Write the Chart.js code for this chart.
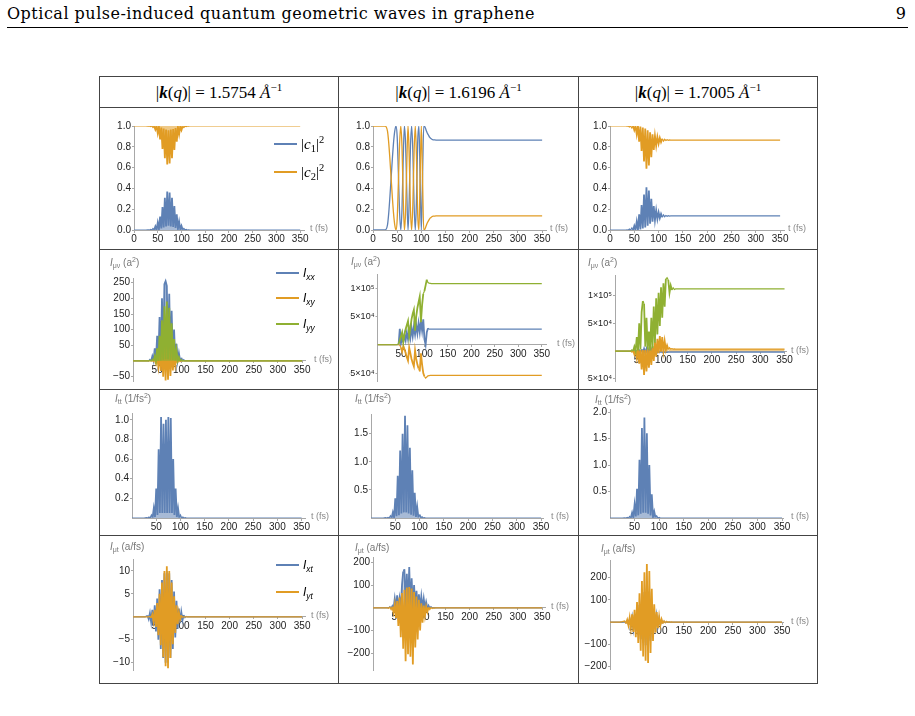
<!DOCTYPE html>
<html>
<head>
<meta charset="utf-8">
<title>Optical pulse-induced quantum geometric waves in graphene</title>
<script src="https://cdn.jsdelivr.net/npm/chart.js@4.4.1/dist/chart.umd.min.js"></script>
<style>
  html, body { margin: 0; padding: 0; background: #fff; }
  body { position: relative; width: 915px; height: 716px; overflow: hidden; }
  .abs { position: absolute; white-space: nowrap; }
  .runhead { font-family: "DejaVu Serif", serif; font-size: 16px; line-height: 16px; color: #000; }
  .hl { position: absolute; height: 1px; background: #444; }
  .vl { position: absolute; width: 1px; background: #444; }
  .colhead { position: absolute; top: 78px; height: 30px; display: flex; align-items: center; justify-content: center;
             font-family: "Liberation Serif", serif; font-size: 17px; white-space: nowrap; }
  .colhead sup { font-size: 11px; vertical-align: 7px; line-height: 0; }
  .ylab { position: absolute; font-family: "Liberation Sans", sans-serif; font-size: 10px; line-height: 10px; color: #777; white-space: nowrap; }
  .ylab sub { font-size: 7px; vertical-align: -2px; line-height: 0; }
  .ylab sup { font-size: 7px; vertical-align: 4px; line-height: 0; }
  .key { position: absolute; height: 2px; width: 23px; }
  .ktxt { position: absolute; white-space: nowrap; line-height: 16px; }
  .ktxt.serif { font-family: "Liberation Serif", serif; font-size: 15px; }
  .ktxt.sans { font-family: "Liberation Sans", sans-serif; font-size: 12px; font-style: italic; }
  .ktxt sub { font-size: 70%; vertical-align: -3px; line-height: 0; }
  .ktxt sup { font-size: 70%; vertical-align: 6px; line-height: 0; }
  canvas { position: absolute; }
</style>
</head>
<body>

<div id="title" class="abs runhead" style="left:7px; top:6px;">Optical pulse-induced quantum geometric waves in graphene</div>
<div class="abs runhead" style="right:9px; top:6px;">9</div>
<div class="hl" style="left:7px; top:27px; width:901px; background:#000;"></div>

<!-- table grid -->
<div class="hl" style="left:99px; top:76px; width:718px;"></div>
<div class="hl" style="left:99px; top:107px; width:718px;"></div>
<div class="hl" style="left:99px; top:249px; width:718px;"></div>
<div class="hl" style="left:99px; top:389px; width:718px;"></div>
<div class="hl" style="left:99px; top:535px; width:718px;"></div>
<div class="hl" style="left:99px; top:683px; width:718px;"></div>
<div class="vl" style="left:99px; top:76px; height:608px;"></div>
<div class="vl" style="left:338px; top:76px; height:608px;"></div>
<div class="vl" style="left:578px; top:76px; height:608px;"></div>
<div class="vl" style="left:817px; top:76px; height:608px;"></div>

<div class="colhead" style="left:100px; width:238px;"><span>|<b><i>k</i></b>(<i>q</i>)| = 1.5754 <i>Å</i><sup>−1</sup></span></div>
<div class="colhead" style="left:339px; width:239px;"><span>|<b><i>k</i></b>(<i>q</i>)| = 1.6196 <i>Å</i><sup>−1</sup></span></div>
<div class="colhead" style="left:579px; width:238px;"><span>|<b><i>k</i></b>(<i>q</i>)| = 1.7005 <i>Å</i><sup>−1</sup></span></div>

<script>
// time grid (fs), shared by every panel
const t = [0, 20, 25,
  30, 32.5, 35, 37.5, 40, 42.5, 45, 47.5, 50, 52.5,
  55, 57.5, 60, 62.5, 65, 67.5, 70, 72.5, 75, 77.5,
  80, 82.5, 85, 87.5, 90, 92.5, 95, 97.5, 100, 102.5,
  105, 107.5, 110, 112.5, 115, 117.5, 120, 122.5, 125, 127.5, 130,
  135, 140, 150, 350];

// row 1 : |c1|^2 , |c2|^2
const c1a = [0, 0, 0,
  .002, 0, .005, 0, .015, .002, .035, .004, .07, .008,
  .13, .015, .22, .025, .31, .035, .37, .04, .36, .035,
  .31, .03, .23, .02, .15, .012, .08, .006, .04, .003,
  .015, .001, .005, 0, .002, 0, 0, 0, 0, 0, 0,
  0, 0, 0, 0];
const c2a = [1, 1, 1,
  .998, 1, .995, 1, .985, .998, .965, .996, .93, .992,
  .87, .985, .78, .975, .69, .965, .63, .96, .64, .965,
  .69, .97, .77, .98, .85, .988, .92, .994, .96, .997,
  .985, .999, .995, 1, .998, 1, 1, 1, 1, 1, 1,
  1, 1, 1, 1];
const c1b = [0, 0, 0,
  .05, .16, .32, .5, .68, .84, .95, 1, .9, .55,
  .17, 0, .2, .68, 1, .82, .35, 0, .3, .8,
  1, .75, .25, 0, .3, .85, 1, .5, 0, .5,
  1, .99, .96, .93, .91, .89, .88, .87, .867, .866, .865,
  .865, .865, .865, .865];
const c2b = [1, 1, 1,
  .95, .84, .68, .5, .32, .16, .05, 0, .1, .45,
  .83, 1, .8, .32, 0, .18, .65, 1, .7, .2,
  0, .25, .75, 1, .7, .15, 0, .5, 1, .5,
  0, .01, .04, .07, .09, .11, .12, .13, .133, .134, .135,
  .135, .135, .135, .135];
const c1c = [0, 0, 0,
  0, 0, .002, 0, .01, 0, .02, 0, .04, 0,
  .08, 0, .15, .005, .24, .015, .34, .025, .41, .04,
  .38, .06, .3, .08, .23, .095, .19, .105, .17, .115,
  .155, .122, .145, .128, .14, .132, .138, .134, .136, .135, .135,
  .135, .135, .135, .135];
const c2c = [1, 1, 1,
  1, 1, .998, 1, .99, 1, .98, 1, .96, 1,
  .92, 1, .85, .995, .76, .985, .66, .975, .59, .96,
  .62, .94, .7, .92, .77, .905, .81, .895, .83, .885,
  .845, .878, .855, .872, .86, .868, .862, .866, .864, .865, .865,
  .865, .865, .865, .865];

// row 2 : I_xx , I_xy , I_yy
const ixxA = [0, 0, 0,
  1, 0, 5, 0, 15, 1, 40, 2, 80, 4,
  140, 8, 200, 12, 245, 255, 240, 12, 215, 10,
  160, 6, 100, 4, 55, 2, 25, 1, 10, 0,
  4, 0, 1, 0, 0, 0, 0, 0, 0, 0, 0,
  0, 0, 0, 0];
const ixyA = [0, 0, 0,
  0, 0, 0, 0, 1, -2, 5, -8, 12, -18,
  25, -32, 45, -50, 62, -62, 72, -60, 60, -48,
  40, -30, 20, -14, 8, -5, 3, -2, 1, 0,
  0, 0, 0, 0, 0, 0, 0, 0, 0, 0, 0,
  0, 0, 0, 0];
const iyyA = [0, 0, 0,
  0, 0, 2, 0, 5, 0, 15, 0, 40, 1,
  80, 2, 130, 4, 175, 5, 190, 5, 170, 4,
  120, 3, 70, 2, 35, 1, 12, 0, 4, 0,
  1, 0, 0, 0, 0, 0, 0, 0, 0, 0, 0,
  0, 0, 0, 0];
const ixxB = [0, 0, 0,
  0, 0, 0, 0, 0, 0, 1000, 28000, 3000, 12000,
  5000, 18000, 8000, 22000, 10000, 25000, 12000, 30000, 15000, 32000,
  18000, 35000, 20000, 38000, 22000, 42000, 25000, 45000, 10000, 0,
  22000, 29000, 27500, 27500, 27500, 27500, 27500, 27500, 27500, 27500, 27500,
  27500, 27500, 27500, 27500];
const ixyB = [0, 0, 0,
  0, 0, 0, 0, 0, 0, 0, -1000, -5000, -12000,
  -2000, -8000, -15000, -22000, -28000, -5000, -15000, -25000, -32000, -38000,
  -10000, -25000, -35000, -42000, -47000, -15000, -35000, -50000, -56000, -59000,
  -57000, -55000, -54500, -54200, -54000, -54000, -54000, -54000, -54000, -54000, -54000,
  -54000, -54000, -54000, -54000];
const iyyB = [0, 0, 0,
  0, 0, 0, 0, 0, 500, 2000, 8000, 15000, 22000,
  5000, 18000, 28000, 35000, 42000, 15000, 30000, 45000, 55000, 62000,
  25000, 50000, 65000, 75000, 85000, 40000, 70000, 90000, 95000, 105000,
  115000, 110000, 109000, 108500, 108000, 108000, 108000, 108000, 108000, 108000, 108000,
  108000, 108000, 108000, 108000];
const ixxC = [0, 0, 0,
  0, 0, 0, 0, 500, -500, 1000, -1000, 2000, -2000,
  3000, -3000, 4000, -4000, 4000, -4000, 3000, -3000, 3000, -3000,
  2000, -3000, 1000, -3000, 0, -3000, -1000, -3000, -1500, -2500,
  -2000, -2500, -2000, -2200, -2000, -2000, -2000, -2000, -2000, -2000, -2000,
  -2000, -2000, -2000, -2000];
const ixyC = [0, 0, 0,
  0, 0, -2000, 500, -6000, 1000, -13000, 2000, -23000, 2000,
  -33000, 2000, -43000, 2000, -37000, 3000, -30000, 5000, -25000, 9000,
  -18000, 16000, -10000, 22000, -4000, 27000, -1000, 25000, 0, 18000,
  2000, 10000, 3000, 6000, 3500, 4500, 3600, 4000, 3600, 3600, 3600,
  3600, 3600, 3600, 3600];
const iyyC = [0, 0, 0,
  0, 0, 2000, 0, 8000, 500, 25000, 1000, 50000, 3000,
  70000, 90000, 85000, 8000, 60000, 3000, 35000, 1000, 60000, 5000,
  80000, 15000, 95000, 30000, 105000, 45000, 115000, 60000, 122000, 80000,
  130000, 132000, 128000, 105000, 118000, 110000, 114000, 111000, 112000, 112000, 112000,
  112000, 112000, 112000, 112000];

// row 3 : I_tt
const ittA = [0, 0, 0,
  .005, 0, .01, 0, .03, .005, .1, .01, .3, .03,
  .7, .05, 1.03, .05, .96, .05, 1.0, .05, 1.03, .05,
  1.02, .05, .6, .03, .3, .01, .1, .005, .03, 0,
  .01, 0, .003, 0, 0, 0, 0, 0, 0, 0, 0,
  0, 0, 0, 0];
const ittB = [0, 0, 0,
  .005, 0, .01, 0, .04, .005, .1, .01, .35, .03,
  .75, .05, 1.2, .08, 1.5, .1, 1.82, .1, 1.65, .08,
  1.25, .06, .85, .04, .45, .02, .2, .01, .06, .005,
  .02, 0, .005, 0, 0, 0, 0, 0, 0, 0, 0,
  0, 0, 0, 0];
const ittC = [0, 0, 0,
  .005, 0, .01, 0, .03, .005, .1, .01, .25, .03,
  .55, .05, 1.1, .08, 1.7, .1, 1.9, .1, 1.6, .08,
  1.0, .05, .45, .02, .12, .01, .04, 0, .01, 0,
  0, 0, 0, 0, 0, 0, 0, 0, 0, 0, 0,
  0, 0, 0, 0];

// row 4 : I_xt , I_yt
const ixtA = [0, 0, 0,
  .3, -.5, .8, -1.1, 1.5, -2, 2.5, -3.2, 4, -5,
  6, -7, 8, -9, 9.5, -10, 10, -10, 9.5, -9,
  8, -7, 5.5, -4.5, 3.5, -2.6, 1.8, -1.4, 1, -.7,
  .4, -.2, .1, 0, 0, 0, 0, 0, 0, 0, 0,
  0, 0, 0, 0];
const iytA = [0, 0, 0,
  0, 0, .1, -.2, .5, -1, 1.5, -2.2, 3, -4,
  5, -6.2, 7.5, -8.8, 10, -10.8, 11, -11.2, 10, -9,
  7.5, -6, 4.5, -3.5, 2.5, -1.6, 1, -.6, .3, -.1,
  0, 0, 0, 0, 0, 0, 0, 0, 0, 0, 0,
  0, 0, 0, 0];
const ixtB = [0, 0, 0,
  0, 0, 5, -2, 10, -3, 40, -5, 55, -5,
  40, -5, 100, 160, 170, -5, 150, -5, 180, -5,
  130, -5, 100, -5, 75, -3, 60, -3, 50, -2,
  40, -2, 25, -1, 12, 0, 5, 0, 1, 0, 0,
  0, 0, 0, 0];
const iytB = [0, 0, 0,
  0, -2, 3, -8, 5, -20, 15, -45, 30, -80,
  45, -130, 65, -180, 80, -235, 90, -205, 92, -215,
  85, -250, 70, -175, 50, -140, 35, -100, 20, -65,
  10, -35, 5, -18, 2, -8, 1, -3, 0, -1, 0,
  0, 0, 0, 0];
const ixtC = [0, 0, 0,
  3, -4, 6, -9, 12, -16, 20, -27, 33, -40,
  54, -57, 78, -78, 110, -93, 135, -105, 155, -110,
  138, -84, 90, -51, 48, -29, 27, -17, 15, -9,
  7, -4, 4, -2, 2, -1, 1, 0, 0, 0, 0,
  0, 0, 0, 0];
const iytC = [0, 0, 2,
  5, -7, 10, -15, 20, -27, 35, -45, 55, -68,
  90, -95, 130, -130, 185, -155, 225, -175, 262, -185,
  230, -140, 150, -85, 80, -48, 45, -28, 25, -15,
  12, -7, 6, -3, 3, -1, 1, 0, .5, 0, 0,
  0, 0, 0, 0];

// tick values and labels
const xTicks0 = [0, 50, 100, 150, 200, 250, 300, 350];
const xTicks = [50, 100, 150, 200, 250, 300, 350];
const yTicksC = [0, 0.2, 0.4, 0.6, 0.8, 1.0];
const yTicksI2 = [-50, 50, 100, 150, 200, 250];
const yTicksBig = [-50000, 50000, 100000];
const yLabelsBig = ['\u22125\u00d710\u2074', '5\u00d710\u2074', '1\u00d710\u2075'];
const yTicksT1 = [0.2, 0.4, 0.6, 0.8, 1.0];
const yTicksT2 = [0.5, 1.0, 1.5];
const yTicksT3 = [0.5, 1.0, 1.5, 2.0];
const yTicksX1 = [-10, -5, 5, 10];
const yTicksX2 = [-200, -100, 100, 200];

const blue = '#5e81b5', orange = '#e19c24', green = '#8fb032';
const axisCol = '#a8a8a8', tickCol = '#222';
const colX = [99, 338, 578, 817];
const rowY = [107, 249, 389, 535, 683];
const YW = 28;
const O = 'origin', TOP = { value: 1 };

// box = chart area on the page [left, top, right, bottom]; tx = left of the "t (fs)" note
// series entries: [values, colour, fill target]
const panels = [
  { r: 0, c: 0, box: [134, 126, 304, 230], xMax: 358, y: [0, 1], xt: xTicks0, yt: yTicksC, dec: 1, tx: 310, series: [[c1a, blue, O], [c2a, orange, TOP]] },
  { r: 0, c: 1, box: [373, 126, 546, 230], xMax: 358, y: [0, 1], xt: xTicks0, yt: yTicksC, dec: 1, tx: 550, smooth: true, series: [[c1b, blue], [c2b, orange]] },
  { r: 0, c: 2, box: [610, 126, 784, 230], xMax: 358, y: [0, 1], xt: xTicks0, yt: yTicksC, dec: 1, tx: 788, series: [[c1c, blue], [c2c, orange]] },
  { r: 1, c: 0, box: [133, 278, 305, 381], xMax: 356, y: [-64, 265], xt: xTicks, yt: yTicksI2, dec: 0, tx: 314, series: [[ixxA, blue, O], [ixyA, orange, O], [iyyA, green, O]] },
  { r: 1, c: 1, box: [377.5, 274, 546, 381], xMax: 359, y: [-64000, 125000], xt: xTicks, yt: yTicksBig, yl: yLabelsBig, fs: 9, tx: 557, series: [[ixxB, blue], [ixyB, orange], [iyyB, green]] },
  { r: 1, c: 2, box: [615, 275, 786, 381], xMax: 353, y: [-54000, 137000], xt: xTicks, yt: yTicksBig, yl: yLabelsBig, fs: 9, tx: 791, series: [[ixxC, blue], [ixyC, orange, O], [iyyC, green]] },
  { r: 2, c: 0, box: [132, 413, 305, 518], xMax: 357, y: [0, 1.07], xt: xTicks, yt: yTicksT1, dec: 1, tx: 311, series: [[ittA, blue, O]] },
  { r: 2, c: 1, box: [371, 414, 543.5, 518], xMax: 355, y: [0, 1.85], xt: xTicks, yt: yTicksT2, dec: 1, tx: 551, series: [[ittB, blue, O]] },
  { r: 2, c: 2, box: [610, 409.5, 783, 518], xMax: 352, y: [0, 2.05], xt: xTicks, yt: yTicksT3, dec: 1, tx: 791, series: [[ittC, blue, O]] },
  { r: 3, c: 0, box: [133, 559.5, 305, 670], xMax: 356, y: [-11.6, 12.5], xt: xTicks, yt: yTicksX1, dec: 0, tx: 311, series: [[ixtA, blue, O], [iytA, orange, O]] },
  { r: 3, c: 1, box: [373, 557, 545, 670], xMax: 356, y: [-274, 224], xt: xTicks, yt: yTicksX2, dec: 0, tx: 551, series: [[ixtB, blue, O], [iytB, orange, O]] },
  { r: 3, c: 2, box: [610, 560, 783, 669], xMax: 352, y: [-212, 280], xt: xTicks, yt: yTicksX2, dec: 0, tx: 791, series: [[ixtC, blue, O], [iytC, orange, O]] }
];

const fmt = (v, d) => (v < 0 ? '\u2212' : '') + Math.abs(v).toFixed(d);
const soft = (hex, a) => {
  const n = parseInt(hex.slice(1), 16);
  return `rgba(${n >> 16}, ${(n >> 8) & 255}, ${n & 255}, ${a})`;
};

// the "t (fs)" note at the end of the time axis
const timeNote = {
  id: 'timeNote',
  afterDraw(chart, args, opts) {
    const { ctx, scales: { y } } = chart;
    ctx.save();
    ctx.font = '9px "Liberation Sans"';
    ctx.fillStyle = '#888';
    ctx.textBaseline = 'middle';
    ctx.fillText('t (fs)', opts.x, y.getPixelForValue(0) - 1);
    ctx.restore();
  }
};

// steep strokes (the fast oscillation) a bit heavier so they read as a filled band
const steepWidth = c => Math.abs(c.p1.y - c.p0.y) > 3 ? 1.8 : 1.2;

panels.forEach(p => {
  const left = colX[p.c] - 4, top = rowY[p.r] + 1;
  const w = colX[p.c + 1] - colX[p.c] + 3, h = rowY[p.r + 1] - rowY[p.r] - 2;
  const cv = document.createElement('canvas');
  cv.width = w; cv.height = h;
  cv.style.left = left + 'px'; cv.style.top = top + 'px';
  document.body.appendChild(cv);

  const [bl, bt, br, bb] = p.box;
  const n = p.series.length;
  const tickFont = { family: 'Liberation Sans', size: 10 };

  new Chart(cv, {
    type: 'line',
    data: {
      datasets: p.series.map(([vals, col, fillTo], i) => ({
        data: t.map((x, j) => ({ x: x, y: vals[j] })),
        borderColor: col,
        backgroundColor: soft(col, 0.55),
        borderWidth: 1.3,
        segment: p.smooth ? {} : { borderWidth: steepWidth },
        pointRadius: 0,
        fill: fillTo || false,
        order: n - i,
        cubicInterpolationMode: p.smooth ? 'monotone' : 'default'
      }))
    },
    options: {
      responsive: false,
      animation: false,
      events: [],
      layout: { padding: { left: bl - left - YW, top: bt - top, right: left + w - br, bottom: top + h - bb } },
      plugins: { legend: { display: false }, tooltip: { enabled: false }, filler: { drawTime: 'beforeDatasetDraw' },
                 timeNote: { x: p.tx - left } },
      scales: {
        x: {
          type: 'linear', min: 0, max: p.xMax, position: { y: 0 },
          afterFit: s => { s.height = 0; },
          afterBuildTicks: s => { s.ticks = p.xt.map(v => ({ value: v })); },
          grid: { drawOnChartArea: false, tickLength: 2, color: axisCol },
          border: { color: axisCol },
          ticks: { autoSkip: false, maxRotation: 0, padding: 1, color: tickCol, font: tickFont, callback: v => String(v) }
        },
        y: {
          type: 'linear', min: p.y[0], max: p.y[1], position: 'left',
          afterFit: s => { s.width = YW; },
          afterBuildTicks: s => { s.ticks = p.yt.map(v => ({ value: v })); },
          grid: { drawOnChartArea: false, tickLength: 2, color: axisCol },
          border: { color: axisCol },
          ticks: { autoSkip: false, padding: 1, color: tickCol,
                   font: { family: 'Liberation Sans', size: p.fs || 10 },
                   callback: (v, i) => p.yl ? p.yl[i] : fmt(v, p.dec) }
        }
      }
    },
    plugins: [timeNote]
  });
});

// stretch the running head to the width it has in the reference
const title = document.getElementById('title');
const extra = 528 - title.getBoundingClientRect().width;
title.style.letterSpacing = (extra / title.textContent.length).toFixed(3) + 'px';
</script>

<!-- axis labels -->
<div class="ylab" style="left:110px; top:258px;"><i>I</i><sub>μν</sub> (a<sup>2</sup>)</div>
<div class="ylab" style="left:351px; top:257px;"><i>I</i><sub>μν</sub> (a<sup>2</sup>)</div>
<div class="ylab" style="left:588px; top:258px;"><i>I</i><sub>μν</sub> (a<sup>2</sup>)</div>
<div class="ylab" style="left:115px; top:394px;"><i>I</i><sub>tt</sub> (1/fs<sup>2</sup>)</div>
<div class="ylab" style="left:355px; top:394px;"><i>I</i><sub>tt</sub> (1/fs<sup>2</sup>)</div>
<div class="ylab" style="left:595px; top:395px;"><i>I</i><sub>tt</sub> (1/fs<sup>2</sup>)</div>
<div class="ylab" style="left:110px; top:542px;"><i>I</i><sub>μt</sub> (a/fs)</div>
<div class="ylab" style="left:355px; top:543px;"><i>I</i><sub>μt</sub> (a/fs)</div>
<div class="ylab" style="left:601px; top:544px;"><i>I</i><sub>μt</sub> (a/fs)</div>

<!-- legends -->
<div class="key" style="left:274px; top:143px; background:#5e81b5;"></div>
<div class="ktxt serif" style="left:301px; top:136px;">|<i>c</i><sub>1</sub>|<sup>2</sup></div>
<div class="key" style="left:274px; top:171px; background:#e19c24;"></div>
<div class="ktxt serif" style="left:301px; top:164px;">|<i>c</i><sub>2</sub>|<sup>2</sup></div>

<div class="key" style="left:276px; top:272px; background:#5e81b5;"></div>
<div class="ktxt sans" style="left:303px; top:265px;">I<sub>xx</sub></div>
<div class="key" style="left:276px; top:297px; background:#e19c24;"></div>
<div class="ktxt sans" style="left:303px; top:290px;">I<sub>xy</sub></div>
<div class="key" style="left:276px; top:323px; background:#8fb032;"></div>
<div class="ktxt sans" style="left:303px; top:316px;">I<sub>yy</sub></div>

<div class="key" style="left:276px; top:564px; background:#5e81b5;"></div>
<div class="ktxt sans" style="left:303px; top:557px;">I<sub>xt</sub></div>
<div class="key" style="left:276px; top:591px; background:#e19c24;"></div>
<div class="ktxt sans" style="left:303px; top:584px;">I<sub>yt</sub></div>

</body>
</html>
